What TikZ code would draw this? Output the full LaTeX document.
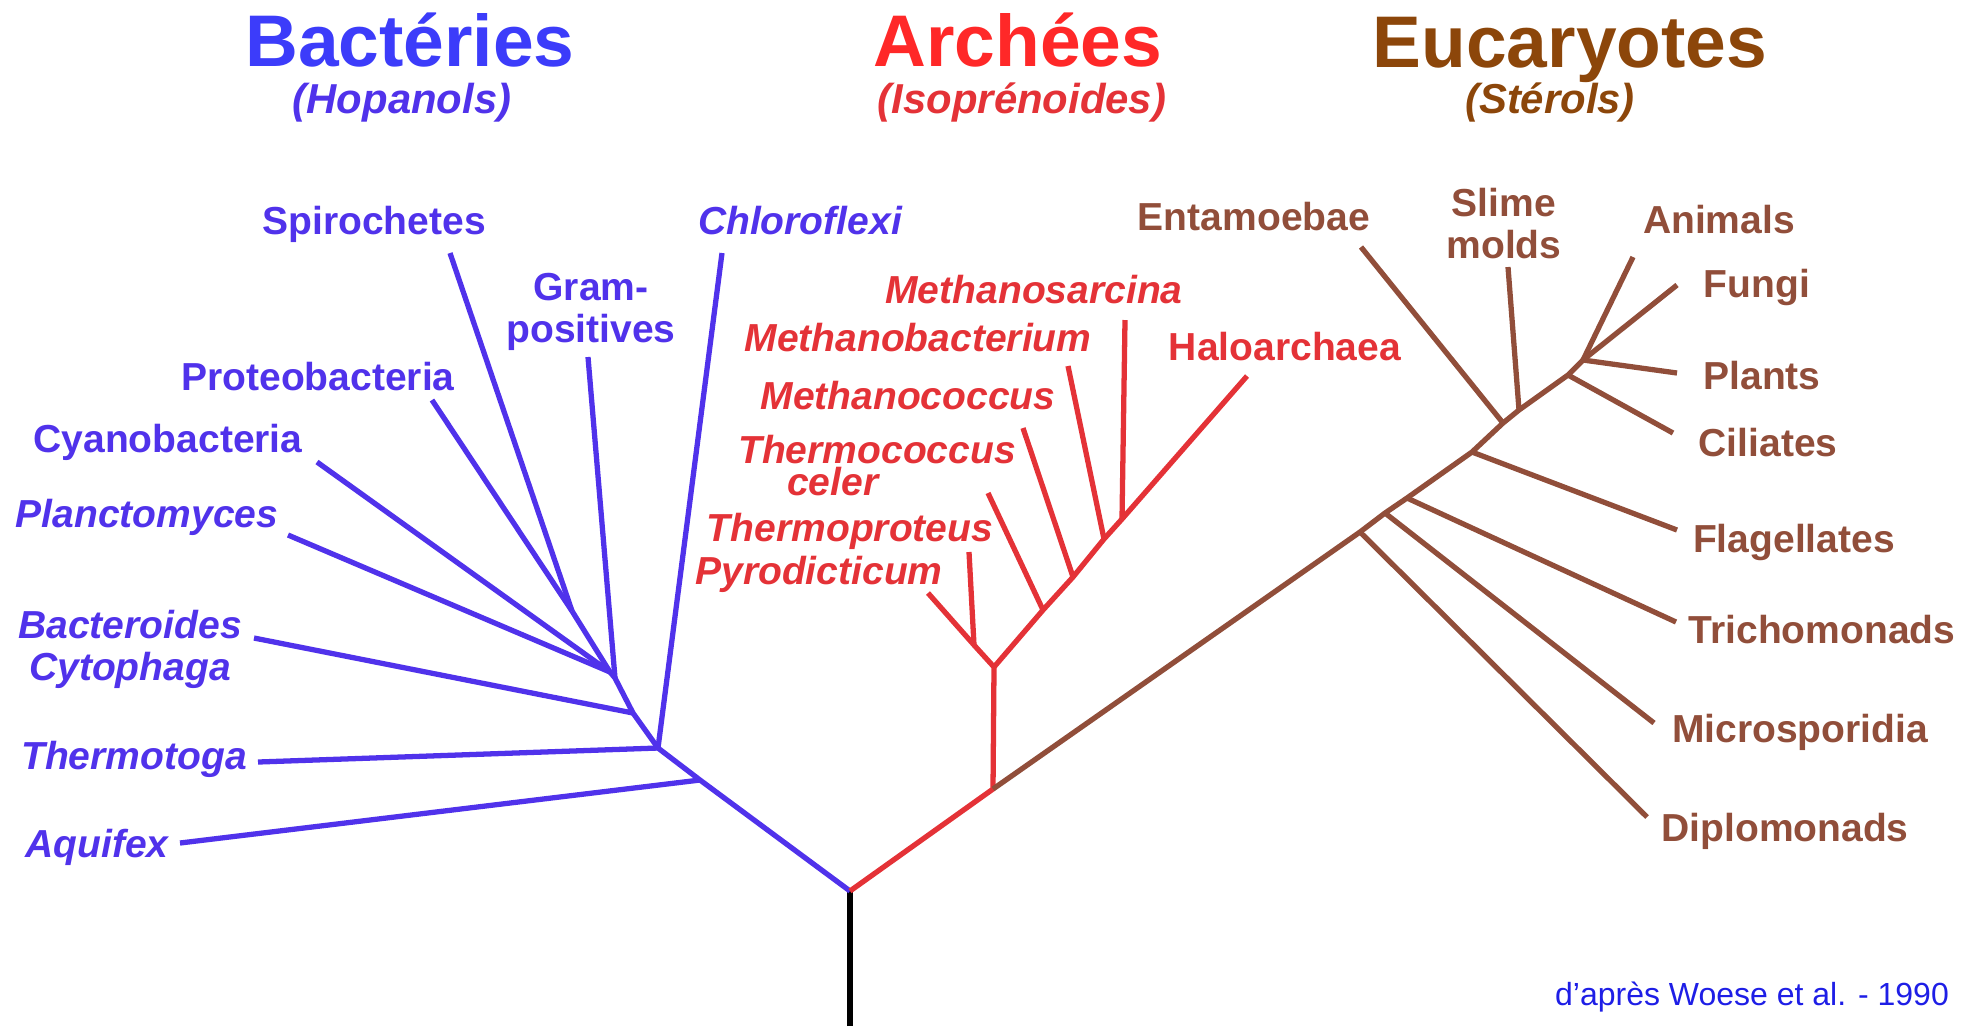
\documentclass[tikz,border=0pt]{standalone}
\usepackage{fontspec}
\setmainfont{Liberation Sans}

\definecolor{bleutitre}{RGB}{60,60,250}
\definecolor{bleu}{RGB}{80,50,235}
\definecolor{rougetitre}{RGB}{255,40,40}
\definecolor{rouge}{RGB}{228,50,55}
\definecolor{bruntitre}{RGB}{140,70,10}
\definecolor{brun}{RGB}{145,78,58}
\definecolor{bleunote}{RGB}{30,30,230}

\begin{document}
\begin{tikzpicture}[x=0.01cm, y=-0.01cm, line width=1.5pt, line join=round,
  titre/.style={anchor=base, font=\fontsize{20.8}{24}\selectfont\bfseries},
  sous/.style={anchor=base, font=\fontsize{11.9}{14}\selectfont\bfseries\itshape},
  lab/.style={anchor=base, align=center, inner sep=0pt, font=\fontsize{11.1}{11.9}\selectfont\bfseries},
  ital/.style={lab, font=\fontsize{11.1}{11.9}\selectfont\bfseries\itshape}]
  \useasboundingbox (0,0) rectangle (1973,1026);

  % racine
  \coordinate (R0) at (850,1026);
  \coordinate (R) at (850,891);

  % bacteries
  \coordinate (B1) at (700,780);  % Aquifex
  \coordinate (B2) at (658,748);  % Thermotoga, Chloroflexi
  \coordinate (B3) at (633,713);  % Bacteroides
  \coordinate (B4) at (615,678);  % Gram-positives
  \coordinate (B5) at (610,672);  % Cyanobacteria, Planctomyces
  \coordinate (B6) at (572,611);  % Spirochetes, Proteobacteria
  \coordinate (aqu) at (180,843);
  \coordinate (thg) at (258,762);
  \coordinate (bcy) at (254,638);
  \coordinate (chl) at (722,253);
  \coordinate (grp) at (588,357);
  \coordinate (cya) at (317,462);
  \coordinate (pla) at (288,535);
  \coordinate (pro) at (432,400);
  \coordinate (spi) at (450,253);

  % archees
  \coordinate (A1) at (993,789);  % depart des eucaryotes
  \coordinate (A2) at (994,667);
  \coordinate (A3) at (974,645);
  \coordinate (A4) at (1043,610);
  \coordinate (A5) at (1073,577);
  \coordinate (A6) at (1104,539);
  \coordinate (A7) at (1122,519);
  \coordinate (pyr) at (928,593);
  \coordinate (thp) at (969,552);
  \coordinate (thc) at (988,493);
  \coordinate (mcc) at (1023,428);
  \coordinate (mbc) at (1068,366);
  \coordinate (msa) at (1125,320);
  \coordinate (hal) at (1247,376);

  % eucaryotes
  \coordinate (E1) at (1360,532);
  \coordinate (E2) at (1385,513);
  \coordinate (E3) at (1407,498);
  \coordinate (E4) at (1472,452);
  \coordinate (E5) at (1503,423);
  \coordinate (E6) at (1519,410);
  \coordinate (E7) at (1568,375);
  \coordinate (E8) at (1583,360);
  \coordinate (dip) at (1647,817);
  \coordinate (mic) at (1654,723);
  \coordinate (tri) at (1676,622);
  \coordinate (fla) at (1677,530);
  \coordinate (ent) at (1361,247);
  \coordinate (sli) at (1508,267);
  \coordinate (cil) at (1673,433);
  \coordinate (pln) at (1677,373);
  \coordinate (fun) at (1677,285);
  \coordinate (ani) at (1633,257);

  \draw (R0)--(R);
  \draw[bleu] (R)--(B1)--(B2)--(B3)--(B4)--(B5)--(B6);
  \draw[bleu] (B1)--(aqu);
  \draw[bleu] (B2)--(thg);
  \draw[bleu] (B2)--(chl);
  \draw[bleu] (B3)--(bcy);
  \draw[bleu] (B4)--(grp);
  \draw[bleu] (B5)--(cya);
  \draw[bleu] (B5)--(pla);
  \draw[bleu] (B6)--(pro);
  \draw[bleu] (B6)--(spi);

  \draw[rouge] (R)--(A1)--(A2)--(A3)--(pyr);
  \draw[rouge] (A3)--(thp);
  \draw[rouge] (A2)--(A4)--(A5)--(A6)--(A7)--(hal);
  \draw[rouge] (A4)--(thc);
  \draw[rouge] (A5)--(mcc);
  \draw[rouge] (A6)--(mbc);
  \draw[rouge] (A7)--(msa);

  \draw[brun] (A1)--(E1)--(E2)--(E3)--(E4)--(E5)--(E6)--(E7)--(E8);
  \draw[brun] (E1)--(dip);
  \draw[brun] (E2)--(mic);
  \draw[brun] (E3)--(tri);
  \draw[brun] (E4)--(fla);
  \draw[brun] (E5)--(ent);
  \draw[brun] (E6)--(sli);
  \draw[brun] (E7)--(cil);
  \draw[brun] (E8)--(pln);
  \draw[brun] (E8)--(fun);
  \draw[brun] (E8)--(ani);

  % titres
  \node[titre, bleutitre] (tbac) at (410,66) {Bactéries};
  \node[sous, bleu] (sbac) at (402,113) {(Hopanols)};
  \node[titre, rougetitre] (tarc) at (1018,66) {Archées};
  \node[sous, rouge] (sarc) at (1022,113) {(Isoprénoides)};
  \node[titre, bruntitre] (teuc) at (1570,67) {Eucaryotes};
  \node[sous, bruntitre] (seuc) at (1550,113) {(Stérols)};

  % noms (base = derniere ligne)
  \node[lab, bleu] (nspi) at (374,234) {Spirochetes};
  \node[lab, bleu] (ngrp) at (591,342) {Gram-\\positives};
  \node[lab, bleu] (npro) at (318,390) {Proteobacteria};
  \node[lab, bleu] (ncya) at (168,452) {Cyanobacteria};
  \node[ital, bleu] (npla) at (147,527) {Planctomyces};
  \node[ital, bleu] (nbcy) at (130,680) {Bacteroides\\Cytophaga};
  \node[ital, bleu] (nthg) at (134,769) {Thermotoga};
  \node[ital, bleu] (naqu) at (97,857) {Aquifex};
  \node[ital, bleu] (nchl) at (800,234) {Chloroflexi};

  \node[ital, rouge] (nmsa) at (1034,303) {Methanosarcina};
  \node[ital, rouge] (nmbc) at (918,351) {Methanobacterium};
  \node[ital, rouge] (nmcc) at (908,409) {Methanococcus};
  \node[ital, rouge, align=left] (nthc) at (877,495) {Thermococcus\\[-2.8pt]\hspace*{4.9mm}celer};
  \node[ital, rouge] (nthp) at (850,541) {Thermoproteus};
  \node[ital, rouge] (npyr) at (819,584) {Pyrodicticum};
  \node[lab, rouge] (nhal) at (1285,360) {Haloarchaea};

  \node[lab, brun] (nent) at (1254,230) {Entamoebae};
  \node[lab, brun] (nsli) at (1504,258) {Slime\\molds};
  \node[lab, brun] (nani) at (1719,233) {Animals};
  \node[lab, brun] (nfun) at (1757,297) {Fungi};
  \node[lab, brun] (npln) at (1762,389) {Plants};
  \node[lab, brun] (ncil) at (1768,456) {Ciliates};
  \node[lab, brun] (nfla) at (1794,552) {Flagellates};
  \node[lab, brun] (ntri) at (1822,643) {Trichomonads};
  \node[lab, brun] (nmic) at (1800,742) {Microsporidia};
  \node[lab, brun] (ndip) at (1785,841) {Diplomonads};

  \node[anchor=base, bleunote, font=\fontsize{9.1}{11}\selectfont] (note) at (1752,1005) {d’après Woese et al. - 1990};
\end{tikzpicture}
\end{document}
